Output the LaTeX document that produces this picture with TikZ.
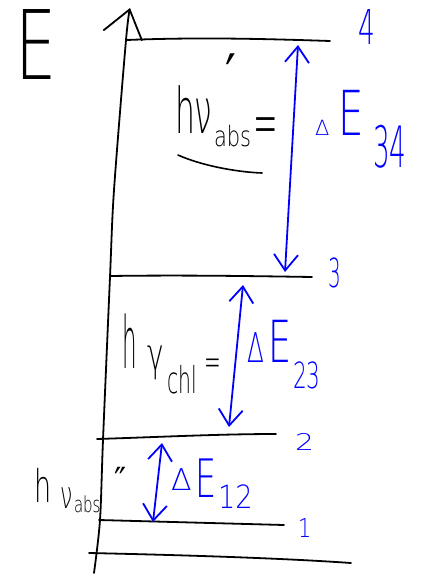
\documentclass[tikz,border=0pt]{standalone}
\usepackage{fontspec}
\IfFontExistsTF{DejaVu Sans ExtraLight}{\setmainfont{DejaVu Sans ExtraLight}}{\setmainfont{DejaVu Sans}}
\newfontfamily\primefont{DejaVu Sans}
\usetikzlibrary{arrows.meta}
\newcommand\hwt[3]{\scalebox{#2}[1]{\fontsize{#1}{#1}\selectfont #3}}
\begin{document}
\begin{tikzpicture}[x=1pt,y=-1pt,
  lvl/.style={line width=1.8pt, line cap=round},
  axisline/.style={line width=1.8pt, line cap=round, -{Straight Barb[length=27pt,width=40pt,line width=1.8pt]}},
  trans/.style={blue, line width=1.8pt, line cap=round,
    {Straight Barb[length=16pt,width=24pt]}-{Straight Barb[length=16pt,width=24pt]}},
  blab/.style={blue, inner sep=0pt, outer sep=0pt, anchor=base west},
  klab/.style={black, inner sep=0pt, outer sep=0pt, anchor=base west}]
\useasboundingbox (0,0) rectangle (429,578);

% energy axis
\draw[axisline] plot[smooth] coordinates {(94,573) (100,520) (103,440) (110,277) (114,190) (126,40) (130,8)};
\node[klab] (E) at (15,80) {\hwt{96}{0.68}{E}};

% levels
\coordinate (L4a) at (127,40);  \coordinate (L4b) at (330,41);
\coordinate (L3a) at (110,276); \coordinate (L3b) at (312,277);
\coordinate (L2a) at (97,439);  \coordinate (L2b) at (276,434);
\coordinate (L1a) at (99,520);  \coordinate (L1b) at (284,525);
\coordinate (L0a) at (89,553);  \coordinate (L0b) at (351,563);
\draw[lvl] (L4a) .. controls (200,37) and (270,39) .. (L4b);
\draw[lvl] (L3a) .. controls (180,275) and (250,276) .. (L3b);
\draw[lvl] (L2a) .. controls (160,437) and (220,434) .. (L2b);
\draw[lvl] (L1a) -- (L1b);
\draw[lvl] (L0a) .. controls (180,555) and (280,558) .. (L0b);

% level numbers
\node[blab] (n4) at (358,45)  {\hwt{48}{0.55}{4}};
\node[blab] (n3) at (328,287) {\hwt{40}{0.5}{3}};
\node[blab] (n2) at (295,450) {\hwt{23}{1.3}{2}};
\node[blab] (n1) at (298,537) {\hwt{26}{0.8}{1}};

% transitions
\coordinate (A34t) at (298,45);  \coordinate (A34b) at (285,272);
\coordinate (A23t) at (243,285); \coordinate (A23b) at (229,427);
\coordinate (A12t) at (162,443); \coordinate (A12b) at (153,522);
\draw[trans] (A34t) -- (A34b);
\draw[trans] (A23t) -- (A23b);
\draw[trans] (A12t) -- (A12b);

% Delta E labels
\node[blab] (d34) at (315,135) {\hwt{21}{1}{Δ}};
\node[blab] (e34) at (338,135) {\hwt{62}{0.65}{E}};
\node[blab] (s34) at (373,167) {\hwt{57}{0.46}{34}};
\node[blab] (d23) at (247,362) {\hwt{41}{0.6}{Δ}};
\node[blab] (e23) at (268,362) {\hwt{58}{0.63}{E}};
\node[blab] (s23) at (293,388) {\hwt{36}{0.6}{23}};
\node[blab] (d12) at (171,490) {\hwt{30}{1}{Δ}};
\node[blab] (e12) at (195,497) {\hwt{53}{0.63}{E}};
\node[blab] (s12) at (218,508) {\hwt{32}{0.85}{12}};

% photon energy labels
\node[klab] (h1) at (175,133) {\hwt{63}{0.5}{hν}};
\node[klab] (sub1) at (214,146) {\hwt{28}{0.75}{abs}};
\node[klab] (pr1) at (225,97) {\primefont\hwt{60}{0.8}{′}};
\node[klab] (eq1) at (253,146) {\hwt{70}{0.42}{=}};
\draw[lvl, line width=1.6pt] (178,155) .. controls (200,165) and (235,172) .. (262,173);

\node[klab] (h2) at (122,368) {\hwt{72}{0.32}{h}};
\node[klab] (v2) at (147,370) {\hwt{45}{0.62}{γ}};
\node[klab] (sub2) at (167,393) {\hwt{37}{0.55}{chl}};
\node[klab] (eq2) at (204,375) {\hwt{40}{0.5}{=}};

\node[klab] (h3) at (34,502) {\hwt{45}{0.6}{h}};
\node[klab] (v3) at (60,508) {\hwt{38}{0.58}{ν}};
\node[klab] (sub3) at (74,512) {\hwt{22}{0.68}{abs}};
\node[klab] (pr3) at (114,493) {\primefont\hwt{36}{0.9}{″}};
\end{tikzpicture}
\end{document}
